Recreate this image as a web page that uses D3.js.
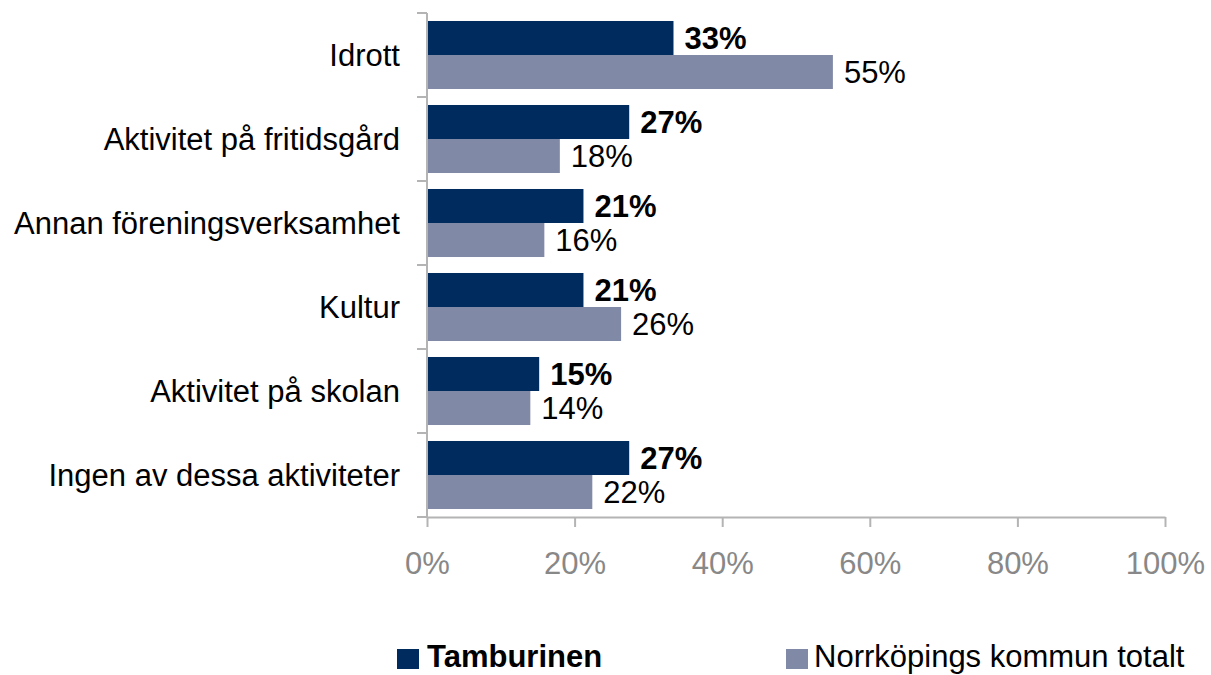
<!DOCTYPE html>
<html>
<head>
<meta charset="utf-8">
<script src="https://cdn.jsdelivr.net/npm/d3@7"></script>
<style>
body { margin: 0; background: #fff; }
svg { font-family: "Liberation Sans", Arial, sans-serif; }
</style>
</head>
<body>
<svg id="chart" width="1211" height="675"></svg>
<script>
// data
var categories = ["Idrott", "Aktivitet på fritidsgård", "Annan föreningsverksamhet",
	"Kultur", "Aktivitet på skolan", "Ingen av dessa aktiviteter"];
var series = ["Tamburinen", "Norrköpings kommun totalt"];
var tamburinen = [33.4, 27.4, 21.2, 21.2, 15.2, 27.4];
var norrkoping = [55.0, 18.0, 15.9, 26.3, 14.0, 22.4];
var xTicks = [0, 20, 40, 60, 80, 100];
var colors = ["#002b5f", "#8089a6"];

var svg = d3.select("#chart");
var plotLeft = 427, plotRight = 1165, plotTop = 13, plotBottom = 517;

var x = d3.scaleLinear().domain([0, 100]).range([plotLeft, plotRight]);
var y = d3.scaleBand().domain(categories).range([plotTop, plotBottom]);
var ySub = d3.scaleBand().domain(series).range([0, y.bandwidth()]).paddingOuter(0.235);

var rows = categories.map(function(c, i) {
	return { cat: c, vals: [tamburinen[i], norrkoping[i]] };
});

// bars
var g = svg.selectAll("g.row").data(rows).enter()
	.append("g").attr("class", "row")
	.attr("transform", function(d) { return "translate(0," + y(d.cat) + ")"; });

g.selectAll("rect").data(function(d) { return d.vals; }).enter()
	.append("rect")
		.attr("x", x(0))
		.attr("y", function(d, i) { return ySub(series[i]); })
		.attr("width", function(d) { return x(d) - x(0); })
		.attr("height", ySub.bandwidth())
		.attr("fill", function(d, i) { return colors[i]; });

g.selectAll("text.val").data(function(d) { return d.vals; }).enter()
	.append("text").attr("class", "val")
		.attr("x", function(d) { return x(d) + 11; })
		.attr("y", function(d, i) { return ySub(series[i]) + ySub.bandwidth() / 2 + 11; })
		.style("font-size", "31px")
		.style("font-weight", function(d, i) { return i == 0 ? "bold" : "normal"; })
		.attr("fill", "#000")
		.text(function(d) { return Math.round(d) + "%"; });

// axes
var axisColor = "#b4b4b4";
svg.append("line").attr("x1", plotLeft).attr("x2", plotLeft).attr("y1", plotTop).attr("y2", plotBottom)
	.attr("stroke", axisColor).attr("stroke-width", 2);
var yEdges = categories.map(function(c) { return y(c); }).concat([plotBottom]);
svg.selectAll("line.ytick").data(yEdges).enter()
	.append("line").attr("class", "ytick")
		.attr("x1", plotLeft - 10).attr("x2", plotLeft)
		.attr("y1", function(d) { return d; }).attr("y2", function(d) { return d; })
		.attr("stroke", axisColor).attr("stroke-width", 2);

var xAxis = svg.append("g").attr("transform", "translate(0," + plotBottom + ")")
	.call(d3.axisBottom(x).tickValues(xTicks).tickSize(10).tickSizeOuter(0)
		.tickFormat(function(d) { return d + "%"; }));
xAxis.select(".domain").attr("stroke", axisColor).attr("stroke-width", 2);
xAxis.selectAll(".tick line").attr("stroke", axisColor).attr("stroke-width", 2);
xAxis.selectAll(".tick text")
	.attr("y", 57).attr("dy", null)
	.attr("fill", "#888")
	.style("font-size", "31px")
	.style("font-family", "'Liberation Sans', Arial, sans-serif");

// category labels
svg.selectAll("text.cat").data(categories).enter()
	.append("text").attr("class", "cat")
		.attr("x", 400)
		.attr("y", function(d) { return y(d) + y.bandwidth() / 2 + 11; })
		.attr("text-anchor", "end")
		.style("font-size", "31px")
		.attr("fill", "#000")
		.text(function(d) { return d; });

// legend
var legendX = [397, 786];
var lg = svg.selectAll("g.legend").data(series).enter()
	.append("g").attr("class", "legend")
	.attr("transform", function(d, i) { return "translate(" + legendX[i] + ",649)"; });
lg.append("rect").attr("width", 22).attr("height", 20)
	.attr("fill", function(d, i) { return colors[i]; });
lg.append("text").attr("x", function(d, i) { return i == 0 ? 30 : 28; }).attr("y", 18)
	.style("font-size", "31px")
	.style("font-weight", function(d, i) { return i == 0 ? "bold" : "normal"; })
	.attr("fill", "#000")
	.text(function(d) { return d; });
</script>
</body>
</html>
